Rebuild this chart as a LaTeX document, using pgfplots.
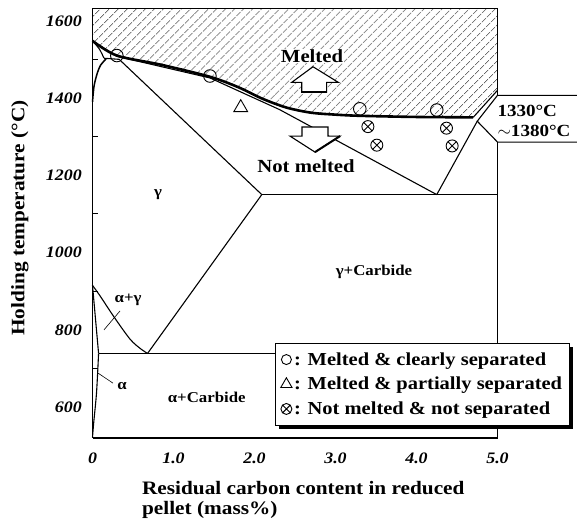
\documentclass[border=0pt]{standalone}
\usepackage{fontspec}
\setmainfont{Liberation Serif}[FakeStretch=1.12]
\usepackage{pgfplots}
\pgfplotsset{compat=1.18}
\usetikzlibrary{patterns.meta,shadows,plotmarks}
\begin{document}
\begin{tikzpicture}[x=1pt,y=1pt]
\path[use as bounding box] (0,0) rectangle (577,520);
\begin{axis}[
  at={(92.5pt,82pt)}, anchor=south west,
  scale only axis, width=405pt, height=429.6pt,
  xmin=0, xmax=5, ymin=520, ymax=1632,
  clip=false,
  axis line style={draw=none},
  xtick={0,1,2,3,4,5}, xticklabels={0,1.0,2.0,3.0,4.0,5.0},
  ytick={600,800,1000,1200,1400,1600},
  yticklabels={600,800,1000,1200,1400,1600},
  minor ytick={700,900,1100,1300,1500},
  xtick pos=bottom, ytick pos=left,
  major tick length=0pt, minor tick length=5pt,
  tick style={black, line width=1pt},
  ticklabel style={font=\fontsize{16}{16}\selectfont\bfseries\itshape, inner sep=0pt},
  xticklabel style={anchor=north, yshift=-14.5pt},
  yticklabel style={anchor=east, xshift=-10.5pt},
  xlabel={Residual carbon content in reduced\\pellet (mass\%)},
  xlabel style={at={(axis description cs:0.122,-0.100)}, anchor=north west, align=left, inner sep=0pt, font=\fontsize{19}{20}\selectfont\bfseries},
  ylabel={Holding temperature (°C)},
  ylabel style={at={(axis description cs:-0.179,0.512)}, anchor=center, inner sep=0pt, font=\fontsize{19}{20}\selectfont\bfseries},
  legend image code/.code={\path (-5.5pt,0pt) (3.5pt,0pt); \draw[#1] plot coordinates {(0pt,0pt)};},
  legend style={at={(0.4506,0.2211)}, anchor=north west, draw=black, line width=0.9pt, fill=white,
    inner xsep=5pt, inner ysep=7pt, row sep=6.5pt,
    font=\fontsize{18.3}{20}\selectfont\bfseries, cells={anchor=west},
    drop shadow={shadow xshift=3.5pt, shadow yshift=-3.5pt, fill=black, opacity=1}},
  ph/.style={black, line width=1.1pt, forget plot},
]
\addlegendimage{only marks, mark=o, mark size=5pt, mark options={line width=0.9pt, fill=white}}
\addlegendentry{: Melted \& clearly separated\hspace{6pt}}
\addlegendimage{only marks, mark=triangle, mark size=6.5pt, mark options={line width=0.9pt, fill=white}}
\addlegendentry{: Melted \& partially separated\hspace{6pt}}
\addlegendimage{only marks, mark=otimes, mark size=5.5pt, mark options={line width=0.9pt, fill=white}}
\addlegendentry{: Not melted \& not separated\hspace{6pt}}

% hatched melted region
\addplot[draw=none, forget plot, pattern={Lines[angle=45,distance=6.5pt,line width=0.55pt]}, pattern color=black]
 coordinates {(0,1632)(5,1632)(5,1420)(4.70,1350)(4.0,1351)(3.3,1354)(3.0,1357)(2.7,1362)(2.4,1375)(2.1,1398)(1.8,1428)(1.45,1455)(0.85,1486)(0.3,1510)(0,1548)} -- cycle;

% phase lines
\addplot[ph] coordinates {(0,1548)(0.3,1508)(1.45,1452)(2.31,1370)(4.25,1150)};
\addplot[ph] coordinates {(0.14,1503)(0.34,1500)};
\addplot[ph] coordinates {(0.34,1498)(2.09,1150)};
\addplot[ph] coordinates {(2.09,1150)(5,1150)};
\addplot[ph] coordinates {(2.09,1150)(0.68,739)};
\addplot[ph] coordinates {(4.25,1150)(4.75,1340)};
\addplot[ph] coordinates {(0.075,739)(5,739)};
\addplot[ph, smooth] coordinates {(0,915)(0.093,888)(0.257,836)(0.463,776)(0.6,750)(0.68,739)};
\addplot[ph] coordinates {(0,915)(0.075,739)};
\addplot[ph, smooth] coordinates {(0.075,739)(0.05,638)(0.015,560)(0,522)};
\addplot[ph, smooth] coordinates {(0,1548)(0.084,1527)(0.14,1504)};
\addplot[ph, smooth, line width=1.5pt] coordinates {(0,1390)(0.02,1432)(0.06,1465)(0.1,1485)(0.17,1502)};
% leaders
\addplot[ph, line width=0.6pt] coordinates {(0.34,849)(0.142,800)};
\addplot[ph, line width=0.6pt] coordinates {(0.253,662)(0.068,688)};

% thick melting boundary
\addplot[black, line width=2.6pt, smooth, forget plot] coordinates {(0,1548)(0.3,1510)(0.85,1486)(1.45,1455)(1.8,1428)(2.1,1398)(2.4,1375)(2.7,1362)(3.0,1357)(3.3,1354)(4.0,1351)(4.70,1350)};
\addplot[ph] coordinates {(4.70,1350)(5,1420)};
% callout
\addplot[ph] coordinates {(5.98,1407)(5,1407)(4.75,1340)(5,1286)(5.98,1286)};

% frame
\draw[line width=1.3pt] (axis cs:5,1407) -- (axis cs:5,1632) -- (axis cs:0,1632);
\draw[line width=1.3pt] (axis cs:0,520) -- (axis cs:5,520) -- (axis cs:5,1286);
\draw[line width=1.6pt] (axis cs:0,1632) -- (axis cs:0,520);

% arrows
\draw[fill=white, line width=1.1pt] (axis cs:2.722,1481) -- (axis cs:3.035,1440.5) -- (axis cs:2.891,1440.5) -- (axis cs:2.891,1414.7) -- (axis cs:2.583,1414.7) -- (axis cs:2.583,1440.5) -- (axis cs:2.459,1440.5) -- cycle;
\draw[line width=1.8pt] (axis cs:2.891,1414.7) -- (axis cs:2.583,1414.7);
\draw[fill=white, line width=1.1pt] (axis cs:2.586,1325) -- (axis cs:2.907,1325) -- (axis cs:2.907,1301.5) -- (axis cs:3.056,1301.5) -- (axis cs:2.747,1260) -- (axis cs:2.438,1301.5) -- (axis cs:2.586,1301.5) -- cycle;
\draw[line width=2.0pt] (axis cs:3.056,1301.5) -- (axis cs:2.747,1260);

% data points
\addplot[only marks, mark=o, mark size=6.3pt, mark options={line width=0.9pt, fill=white}, forget plot]
 coordinates {(0.3,1510)(1.45,1457)(3.3,1372)(4.25,1369)};
\addplot[only marks, mark=triangle, mark size=8pt, mark options={line width=0.9pt, fill=white}, forget plot]
 coordinates {(1.83,1375)};
\addplot[only marks, mark=otimes, mark size=6pt, mark options={line width=0.9pt, fill=white}, forget plot]
 coordinates {(3.40,1326)(3.51,1278)(4.37,1322)(4.44,1276)};

% labels
\node[font=\fontsize{18.5}{20}\selectfont\bfseries, fill=white, inner sep=0.5pt] at (axis cs:2.71,1508.6) {Melted};
\node[font=\fontsize{18.5}{20}\selectfont\bfseries, inner sep=0pt] at (axis cs:2.636,1224) {Not melted};
\node[font=\fontsize{15}{16}\selectfont\bfseries] at (axis cs:0.81,1151) {γ};
\node[font=\fontsize{15}{16}\selectfont\bfseries] at (axis cs:3.475,949) {γ+Carbide};
\node[font=\fontsize{15}{16}\selectfont\bfseries] at (axis cs:0.44,877) {α+γ};
\node[font=\fontsize{15}{16}\selectfont\bfseries] at (axis cs:0.364,654) {α};
\node[font=\fontsize{15}{16}\selectfont\bfseries] at (axis cs:1.41,626) {α+Carbide};
\node[font=\fontsize{17}{20}\selectfont\bfseries, anchor=west, inner sep=0pt] at (axis cs:4.998,1366) {1330°C};
\node[font=\fontsize{17}{20}\selectfont\bfseries, anchor=west, inner sep=0pt] at (axis cs:4.998,1314.7) {$\sim$1380°C};
\end{axis}
\end{tikzpicture}
\end{document}
